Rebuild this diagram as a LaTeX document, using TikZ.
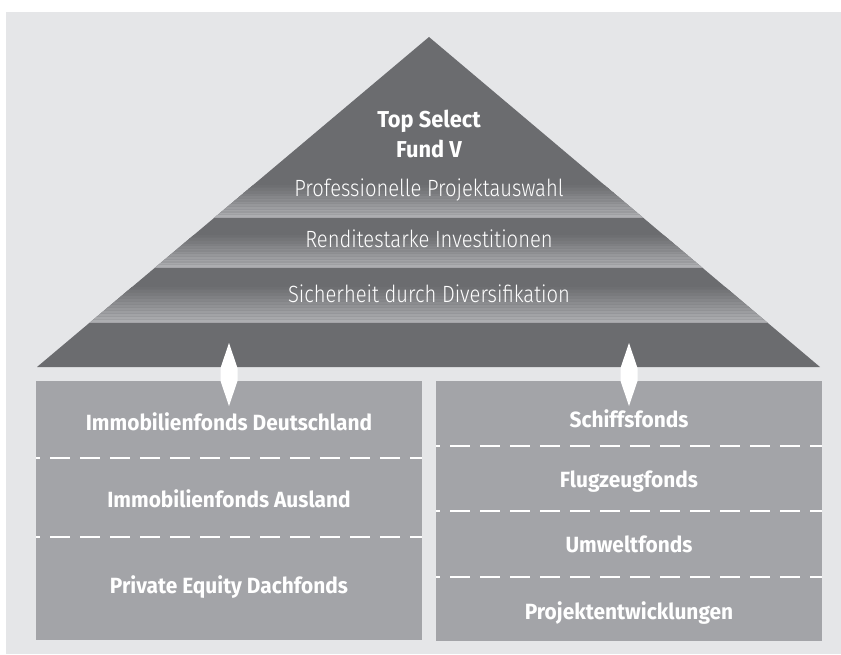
\documentclass[tikz,border=0pt]{standalone}
\usepackage{fontspec}
\newfontfamily\boldcond[FakeStretch=0.95]{Fira Sans}
\newfontfamily\lightcond[FakeStretch=0.86]{Fira Sans Light}
\definecolor{panel}{HTML}{E5E6E8}
\definecolor{pyr}{HTML}{6B6C6F}
\definecolor{bandlight}{HTML}{B0B1B4}
\definecolor{boxgray}{HTML}{A3A4A8}
\tikzset{
 boxtext/.style={anchor=base, text=white, inner sep=0pt, font=\boldcond\bfseries\fontsize{22}{26}\selectfont},
 titletext/.style={anchor=base, text=white, inner sep=0pt, font=\boldcond\bfseries\fontsize{23}{28}\selectfont},
 bandtext/.style={anchor=base, text=white, inner sep=0pt, font=\lightcond\fontsize{23.5}{28}\selectfont},
 fundbox/.style={fill=boxgray, draw=none, inner sep=0pt, anchor=north west},
 sep/.style={draw=white, line width=2pt, dash pattern=on 20pt off 10pt, dash phase=16pt},
 dblarrow/.style={fill=white}
}
\begin{document}
\begin{tikzpicture}[x=1pt,y=-1pt]
\useasboundingbox (0,0) rectangle (841,655);
\fill[white] (0,0) rectangle (841,655);
\fill[panel] (6,12) rectangle (841,654);
% pyramid
\coordinate (apex) at (429,37);
\coordinate (bl) at (37,367);
\coordinate (br) at (820,367);
\fill[pyr] (apex) -- (bl) -- (br) -- cycle;
\begin{scope}
\clip (apex) -- (bl) -- (br) -- cycle;
\foreach \t/\b in {168/218,218/268,268/323}{
  \foreach \k in {0,...,23}{
    \pgfmathsetmacro\yy{\t+0.35*(\b-\t)+\k*0.65*(\b-\t)/24}
    \pgfmathsetmacro\hh{0.65*(\b-\t)/24+0.3}
    \pgfmathsetmacro\pp{mod(\k,2)==0 ? 100*(\k+1)/24 : 82*(\k+1)/24}
    \fill[bandlight!\pp!pyr] (0,\yy) rectangle (841,\yy+\hh);
  }
}
\end{scope}
\node[titletext] (title1) at (429,128) {Top Select};
\node[titletext] (title2) at (429,158) {Fund V};
\node[bandtext] (band1) at (429,197) {Professionelle Projektauswahl};
\node[bandtext] (band2) at (429,248) {Renditestarke Investitionen};
\node[bandtext] (band3) at (429,302) {Sicherheit durch Diversifikation};
% boxes
\node[fundbox, minimum width=386pt, minimum height=259pt] (leftbox) at (36,381) {};
\node[fundbox, minimum width=386pt, minimum height=260pt] (rightbox) at (436,381) {};
\draw[sep] (36,458) -- (422,458);
\draw[sep] (36,537) -- (422,537);
\draw[sep] (436,446) -- (822,446);
\draw[sep] (436,511) -- (822,511);
\draw[sep] (436,577) -- (822,577);
\node[boxtext] (l1) at (229,430) {Immobilienfonds Deutschland};
\node[boxtext] (l2) at (229,507) {Immobilienfonds Ausland};
\node[boxtext] (l3) at (229,593) {Private Equity Dachfonds};
\node[boxtext] (r1) at (629,427) {Schiffsfonds};
\node[boxtext] (r2) at (629,487) {Flugzeugfonds};
\node[boxtext] (r3) at (629,552) {Umweltfonds};
\node[boxtext] (r4) at (629,619) {Projektentwicklungen};
% double arrows
\coordinate (aL) at (229,343);
\coordinate (aR) at (629,343);
\foreach \a in {aL,aR}{
  \fill[dblarrow] (\a) -- ++(8.5,25) -- ++(0,13) -- ++(-8.5,25) -- ++(-8.5,-25) -- ++(0,-13) -- cycle;
}
\end{tikzpicture}
\end{document}
